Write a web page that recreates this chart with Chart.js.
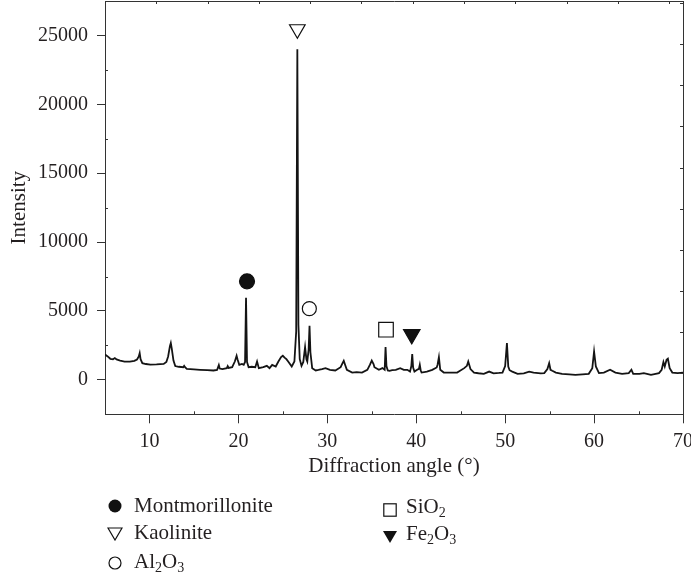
<!DOCTYPE html>
<html>
<head>
<meta charset="utf-8">
<script src="https://cdn.jsdelivr.net/npm/chart.js@4.4.1/dist/chart.umd.min.js"></script>
<style>
  html, body { margin: 0; padding: 0; background: #fff; }
  #wrap { position: relative; width: 691px; height: 577px; overflow: hidden; }
  #xrd { position: absolute; left: 0; top: 0; }
  .key { position: absolute; font-family: 'Liberation Serif', 'Times New Roman', serif; font-size: 21px;
         color: #231f20; line-height: 28px; white-space: nowrap; }
  .key sub { font-size: 14px; vertical-align: -4px; line-height: 0; }
  .mk { position: absolute; display: block; }
</style>
</head>
<body>
<div id="wrap">
  <canvas id="xrd" width="691" height="577"></canvas>

  <svg class="mk" style="left:108px;top:499px" width="14" height="14"><circle cx="7" cy="7" r="6.5" fill="#111"/></svg>
  <div class="key" style="left:134px;top:491px">Montmorillonite</div>

  <svg class="mk" style="left:107px;top:527px" width="16" height="14"><polygon points="1,1 15,1 8,13" fill="none" stroke="#111" stroke-width="1.2"/></svg>
  <div class="key" style="left:134px;top:518px">Kaolinite</div>

  <svg class="mk" style="left:108px;top:556px" width="14" height="14"><circle cx="7" cy="7" r="6" fill="none" stroke="#111" stroke-width="1.2"/></svg>
  <div class="key" style="left:134px;top:547px">Al<sub>2</sub>O<sub>3</sub></div>

  <svg class="mk" style="left:383px;top:503px" width="14" height="14"><rect x="0.8" y="0.8" width="12.4" height="12.4" fill="none" stroke="#111" stroke-width="1.2"/></svg>
  <div class="key" style="left:406px;top:492px">SiO<sub>2</sub></div>

  <svg class="mk" style="left:382px;top:530px" width="16" height="14"><polygon points="1,1 15,1 8,13" fill="#111"/></svg>
  <div class="key" style="left:406px;top:519px">Fe<sub>2</sub>O<sub>3</sub></div>
</div>

<script>
// XRD pattern: diffraction angle (deg) and intensity (counts)
const angle = [
  5.0, 5.3, 5.6, 5.9, 6.1, 6.3, 6.7, 7.2, 7.8, 8.3, 8.6, 8.8, 8.9, 9.0, 9.2, 9.6,
  10.1, 10.8, 11.6, 11.9, 12.1, 12.3, 12.4, 12.5, 12.7, 12.9, 13.3, 13.8, 13.9, 14.0, 14.2,
  15.0, 15.7, 16.5, 17.2, 17.6, 17.8, 17.9, 18.2, 18.7, 18.8, 18.9, 19.3, 19.6, 19.8, 19.9,
  20.1, 20.4, 20.6, 20.75, 20.86, 20.97, 21.15, 21.5, 21.9, 22.1, 22.3, 22.8, 23.2, 23.5,
  23.8, 24.2, 24.5, 24.8, 25.0, 25.2, 25.4, 25.6, 26.0, 26.3, 26.5, 26.63, 26.75, 26.9,
  27.1, 27.3, 27.5, 27.65, 27.75, 27.9, 28.0, 28.1, 28.3, 28.7, 29.0, 29.4, 29.8, 30.3,
  30.9, 31.5, 31.7, 31.85, 32.0, 32.2, 32.8, 33.3, 33.9, 34.5, 34.8, 35.0, 35.2, 35.3,
  35.8, 36.2, 36.45, 36.55, 36.65, 36.8, 37.0, 37.3, 37.7, 38.2, 38.6, 39.0, 39.3, 39.45,
  39.55, 39.65, 39.8, 40.1, 40.3, 40.4, 40.5, 40.6, 41.2, 41.8, 42.3, 42.4, 42.55, 42.7,
  43.1, 44.0, 44.6, 45.4, 45.7, 45.85, 46.1, 46.5, 47.0, 47.6, 48.2, 48.7, 49.3, 49.7,
  50.0, 50.2, 50.35, 50.5, 50.8, 51.4, 52.1, 52.7, 53.2, 54.0, 54.4, 54.75, 54.95, 55.1,
  55.3, 55.7, 56.4, 57.2, 57.9, 58.7, 59.4, 59.8, 60.0, 60.2, 60.55, 61.1, 61.8, 62.4,
  63.15, 63.9, 64.2, 64.4, 65.1, 65.6, 66.4, 67.3, 67.6, 67.8, 67.95, 68.15, 68.3, 68.5,
  68.8, 69.4, 70.0
];
const intensity = [
  1850, 1700, 1530, 1500, 1580, 1480, 1400, 1330, 1330, 1380, 1480, 1700, 1940, 1500, 1210, 1150,
  1110, 1120, 1160, 1300, 1700, 2450, 2670, 2300, 1400, 1000, 950, 920, 1020, 920, 800,
  760, 730, 700, 680, 720, 1070, 820, 780, 850, 1000, 870, 920, 1330, 1750, 1500,
  1090, 1160, 1090, 1300, 5950, 1300, 920, 950, 920, 1330, 850, 920, 1020, 850,
  1090, 970, 1330, 1650, 1750, 1620, 1500, 1330, 970, 1330, 3500, 24000, 4000, 1500,
  1020, 1300, 2380, 1500, 1330, 2200, 3930, 2000, 850, 680, 720, 780, 850, 730,
  680, 920, 1200, 1380, 1100, 730, 530, 560, 530, 730, 1100, 1400, 1150, 920,
  730, 850, 730, 2380, 1000, 680, 650, 700, 730, 850, 730, 730, 600, 1000,
  1870, 900, 600, 730, 800, 1090, 700, 530, 600, 730, 900, 1100, 1650, 730,
  530, 520, 530, 850, 1020, 1330, 780, 530, 480, 440, 600, 470, 500, 530,
  1000, 2670, 970, 700, 600, 440, 470, 600, 530, 470, 490, 780, 1210, 730,
  660, 530, 440, 400, 360, 400, 440, 850, 2060, 970, 490, 530, 730, 530,
  440, 490, 730, 440, 440, 490, 360, 490, 730, 1290, 970, 1450, 1530, 850,
  530, 490, 530
];

// Phase identification symbols above the assigned reflections
const phaseNames = ['Montmorillonite', 'Kaolinite', 'Al₂O₃', 'SiO₂', 'Fe₂O₃'];
const phaseAngle = [20.97, 26.63, 27.98, 36.6, 39.5];
const phaseIntensity = [7150, 25450, 5170, 3640, 3300];

// Axis ticks
const xTickValues = [10, 20, 30, 40, 50, 60, 70];
const xMinorValues = [15, 25, 35, 45, 55, 65];
const yTickValues = [0, 5000, 10000, 15000, 20000, 25000];
const yMinorValues = [2500, 7500, 12500, 17500, 22500];
const topTickValues = [1, 2, 3, 4, 5, 6, 7, 8, 9, 10, 11];
const rightTickValues = [1, 2, 3, 4, 5, 6, 7, 8, 9, 10];

const ink = '#231f20';
const axisColor = '#333';
const fontFamily = "'Liberation Serif', 'Times New Roman', serif";
const tickFont = { family: fontFamily, size: 20 };
const titleFont = { family: fontFamily, size: 21 };

const symbolStyles = [
  { pointStyle: 'circle',   radius: 7.5,  rotation: 0,   fill: '#111' },
  { pointStyle: 'triangle', radius: 9,    rotation: 180, fill: '#fff' },
  { pointStyle: 'circle',   radius: 7,    rotation: 0,   fill: '#fff' },
  { pointStyle: 'rect',     radius: 10.3, rotation: 0,   fill: '#fff' },
  { pointStyle: 'triangle', radius: 9.5,  rotation: 180, fill: '#111' }
];

const pattern = angle.map((a, i) => ({ x: a, y: intensity[i] }));

const symbolSets = phaseNames.map((name, i) => ({
  label: name,
  data: [{ x: phaseAngle[i], y: phaseIntensity[i] }],
  showLine: false,
  pointStyle: symbolStyles[i].pointStyle,
  pointRadius: symbolStyles[i].radius,
  pointRotation: symbolStyles[i].rotation,
  pointBackgroundColor: symbolStyles[i].fill,
  pointBorderColor: '#111',
  pointBorderWidth: 1.2,
  pointHoverRadius: symbolStyles[i].radius
}));

// Keep the plot frame fixed: labels may overhang the frame edges
function zeroPadding(s) {
  s.paddingLeft = 0; s.paddingRight = 0; s.paddingTop = 0; s.paddingBottom = 0;
}

// Minor ticks (inward) on the main axes and the plain ticks on the top/right frame
const frameTicks = {
  id: 'frameTicks',
  afterDraw(chart) {
    const { ctx, chartArea: a, scales } = chart;
    const px = v => Math.round(v) + 0.5;
    ctx.save();
    ctx.strokeStyle = axisColor;
    ctx.lineWidth = 1;
    ctx.beginPath();
    xMinorValues.forEach(v => {
      const p = px(scales.x.getPixelForValue(v));
      ctx.moveTo(p, a.bottom); ctx.lineTo(p, a.bottom - 3);
    });
    yMinorValues.forEach(v => {
      const p = px(scales.y.getPixelForValue(v));
      ctx.moveTo(a.left, p); ctx.lineTo(a.left + 3, p);
    });
    topTickValues.forEach(v => {
      const p = px(scales.x2.getPixelForValue(v));
      ctx.moveTo(p, a.top); ctx.lineTo(p, a.top + 3);
    });
    rightTickValues.forEach(v => {
      const p = px(scales.y2.getPixelForValue(v));
      ctx.moveTo(a.right, p); ctx.lineTo(a.right - 3, p);
    });
    ctx.stroke();
    ctx.restore();
  }
};

new Chart(document.getElementById('xrd'), {
  type: 'scatter',
  data: {
    datasets: [{
      label: 'XRD',
      data: pattern,
      showLine: true,
      borderColor: '#141414',
      borderWidth: 1.8,
      pointRadius: 0,
      pointHoverRadius: 0,
      tension: 0
    }, ...symbolSets]
  },
  options: {
    responsive: false,
    animation: false,
    devicePixelRatio: 1,
    layout: { autoPadding: false, padding: { top: 1, right: 8, bottom: 87, left: 0 } },
    plugins: { legend: { display: false }, tooltip: { enabled: false } },
    scales: {
      x: {
        type: 'linear', position: 'bottom', min: 5, max: 70,
        afterBuildTicks: s => { s.ticks = xTickValues.map(v => ({ value: v })); },
        afterFit: s => { s.height = 75.7; zeroPadding(s); },
        ticks: { font: tickFont, color: ink, padding: 6, maxRotation: 0, autoSkip: false,
                 callback: v => String(v) },
        grid: { display: true, drawOnChartArea: false, drawTicks: true, tickLength: 9,
                tickColor: axisColor, tickWidth: 1 },
        border: { display: true, color: axisColor, width: 1 },
        title: { display: true, text: 'Diffraction angle (°)', font: titleFont, color: ink,
                 padding: { top: 0, bottom: 11 } }
      },
      y: {
        type: 'linear', position: 'left', min: -2500, max: 27500,
        afterBuildTicks: s => { s.ticks = yTickValues.map(v => ({ value: v })); },
        afterFit: s => { s.width = 105; zeroPadding(s); },
        ticks: { font: tickFont, color: ink, padding: 9, callback: v => String(v) },
        grid: { display: true, drawOnChartArea: false, drawTicks: true, tickLength: 8,
                tickColor: axisColor, tickWidth: 1 },
        border: { display: true, color: axisColor, width: 1 },
        title: { display: true, text: 'Intensity', font: titleFont, color: ink,
                 padding: { top: 7, bottom: 0 } }
      },
      x2: {
        type: 'linear', axis: 'x', position: 'top', min: 0, max: 11.27,
        afterFit: s => { s.height = 0; zeroPadding(s); },
        ticks: { display: false },
        grid: { display: false, drawTicks: false },
        border: { display: true, color: axisColor, width: 1 }
      },
      y2: {
        type: 'linear', axis: 'y', position: 'right', min: 0, max: 10.05,
        afterFit: s => { s.width = 0; zeroPadding(s); },
        ticks: { display: false },
        grid: { display: false, drawTicks: false },
        border: { display: true, color: axisColor, width: 1 }
      }
    }
  },
  plugins: [frameTicks]
});
</script>
</body>
</html>
